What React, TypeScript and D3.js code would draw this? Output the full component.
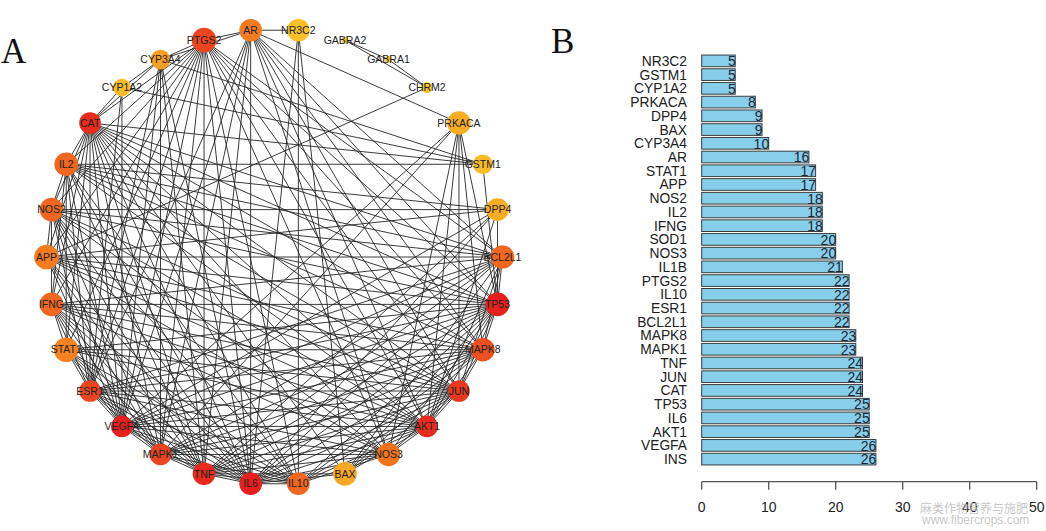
import React from "react";
import * as d3 from "d3";

// ---- panel A: PPI network (circle layout, clockwise from the top) ----
const nodeNames = [
  "NR3C2", "GABRA2", "GABRA1", "CHRM2", "PRKACA", "GSTM1", "DPP4", "BCL2L1",
  "TP53", "MAPK8", "JUN", "AKT1", "NOS3", "BAX", "IL10", "IL6", "TNF", "MAPK1",
  "VEGFA", "ESR1", "STAT1", "IFNG", "APP", "NOS2", "IL2", "CAT", "CYP1A2",
  "CYP3A4", "PTGS2", "AR",
];
// closeness-like score, drives node size
const nodeCloseness = [
  0.85, 0.05, 0.05, 0.25, 0.9, 0.7, 0.85, 0.9, 0.9, 0.9, 0.8, 0.8, 0.9, 0.9,
  0.85, 0.85, 0.85, 0.8, 0.8, 0.8, 0.95, 0.9, 0.95, 0.9, 0.9, 0.8, 0.6, 0.7,
  0.95, 0.85,
];

// adjacency, each edge listed once
const links: [string, string[]][] = [
  ["VEGFA", ["TP53", "AKT1", "IL6", "CAT", "JUN", "TNF", "MAPK8", "MAPK1", "BCL2L1", "IL10", "ESR1", "PTGS2", "NOS3", "IFNG", "IL2", "NOS2", "STAT1", "APP", "AR", "CYP1A2", "CYP3A4", "PRKACA", "DPP4"]],
  ["TP53", ["AKT1", "IL6", "CAT", "JUN", "TNF", "MAPK8", "MAPK1", "BCL2L1", "IL10", "ESR1", "PTGS2", "NOS3", "IFNG", "IL2", "NOS2", "STAT1", "APP", "AR", "PRKACA", "DPP4", "BAX", "GSTM1"]],
  ["AKT1", ["IL6", "CAT", "JUN", "TNF", "MAPK8", "MAPK1", "BCL2L1", "IL10", "ESR1", "PTGS2", "NOS3", "IFNG", "IL2", "NOS2", "STAT1", "APP", "AR", "PRKACA", "DPP4", "BAX"]],
  ["IL6", ["CAT", "JUN", "TNF", "MAPK8", "MAPK1", "BCL2L1", "IL10", "ESR1", "PTGS2", "NOS3", "IFNG", "IL2", "NOS2", "STAT1", "APP", "AR", "NR3C2", "DPP4", "BAX", "CYP3A4"]],
  ["CAT", ["JUN", "TNF", "MAPK8", "MAPK1", "BCL2L1", "IL10", "ESR1", "PTGS2", "NOS3", "IFNG", "IL2", "NOS2", "STAT1", "APP", "GSTM1", "CYP3A4", "CYP1A2", "BAX"]],
  ["JUN", ["TNF", "MAPK8", "MAPK1", "BCL2L1", "IL10", "ESR1", "PTGS2", "NOS3", "IFNG", "IL2", "NOS2", "STAT1", "APP", "AR", "PRKACA", "BAX"]],
  ["TNF", ["MAPK8", "MAPK1", "BCL2L1", "IL10", "ESR1", "PTGS2", "NOS3", "IFNG", "IL2", "NOS2", "STAT1", "APP", "AR", "DPP4", "BAX", "CYP3A4"]],
  ["MAPK8", ["MAPK1", "BCL2L1", "IL10", "ESR1", "PTGS2", "IFNG", "IL2", "STAT1", "APP", "AR", "PRKACA", "BAX"]],
  ["MAPK1", ["BCL2L1", "IL10", "ESR1", "PTGS2", "NOS3", "IFNG", "STAT1", "APP", "AR", "NOS2", "PRKACA", "CYP3A4"]],
  ["BCL2L1", ["ESR1", "PTGS2", "IFNG", "IL2", "APP", "NOS2", "AR", "BAX"]],
  ["IL10", ["ESR1", "PTGS2", "NOS3", "IFNG", "IL2", "NOS2", "STAT1", "NR3C2"]],
  ["ESR1", ["PTGS2", "NOS3", "IFNG", "IL2", "NOS2", "STAT1", "AR", "CYP3A4", "CYP1A2"]],
  ["PTGS2", ["NOS3", "IFNG", "IL2", "NOS2", "STAT1", "APP", "AR", "CYP3A4"]],
  ["NOS3", ["NOS2", "APP", "AR", "IFNG", "PRKACA"]],
  ["IFNG", ["IL2", "STAT1", "NOS2"]],
  ["IL2", ["STAT1", "NOS2", "DPP4", "GSTM1"]],
  ["NOS2", ["APP", "DPP4"]],
  ["APP", ["CHRM2", "DPP4"]],
  ["AR", ["NR3C2", "PRKACA", "CYP3A4"]],
  ["NR3C2", ["BAX"]],
  ["CYP3A4", ["CYP1A2", "GSTM1"]],
  ["CYP1A2", ["GSTM1"]],
  ["GABRA2", ["GABRA1", "CHRM2"]],
  ["GABRA1", ["CHRM2"]],
];

// ---- panel B: degree bar chart ----
const barGenes = [
  "NR3C2", "GSTM1", "CYP1A2", "PRKACA", "DPP4", "BAX", "CYP3A4", "AR", "STAT1",
  "APP", "NOS2", "IL2", "IFNG", "SOD1", "NOS3", "IL1B", "PTGS2", "IL10", "ESR1",
  "BCL2L1", "MAPK8", "MAPK1", "TNF", "JUN", "CAT", "TP53", "IL6", "AKT1",
  "VEGFA", "INS",
];
const barCounts = [
  5, 5, 5, 8, 9, 9, 10, 16, 17, 17, 18, 18, 18, 20, 20, 21, 22, 22, 22, 22, 23,
  23, 24, 24, 24, 25, 25, 25, 26, 26,
];
const xTicks = [0, 10, 20, 30, 40, 50];

const W = 1046;
const H = 531;
const sans = "'Liberation Sans', Arial, Helvetica, sans-serif";
const serif = "'Liberation Serif', 'Times New Roman', serif";

export default function App() {
  // network layout
  const cx = 274.5;
  const cy = 257;
  const R = 228;
  const angle = d3
    .scaleLinear()
    .domain([0, nodeNames.length])
    .range([(-84 * Math.PI) / 180, (276 * Math.PI) / 180]);
  const pos = new Map<string, [number, number]>();
  nodeNames.forEach((n, i) => {
    const a = angle(i);
    pos.set(n, [cx + R * Math.cos(a), cy + R * Math.sin(a)]);
  });

  const edges: [string, string][] = [];
  links.forEach(([s, ts]) => ts.forEach((t) => edges.push([s, t])));
  const degree = new Map<string, number>();
  nodeNames.forEach((n) => degree.set(n, 0));
  edges.forEach(([s, t]) => {
    degree.set(s, (degree.get(s) || 0) + 1);
    degree.set(t, (degree.get(t) || 0) + 1);
  });

  const color = d3
    .scaleLinear<string>()
    .domain([2, 9, 16, 23])
    .range(["#f9c92a", "#f8a824", "#f3731f", "#e5201d"])
    .clamp(true);
  const size = d3.scaleLinear().domain([0, 1]).range([3, 12.8]);

  // bar chart scales
  const x = d3.scaleLinear().domain([0, 50]).range([701.7, 1036.7]);
  const y = d3.scaleBand<string>().domain(barGenes).range([53, 467]).padding(0.15);
  const axisY = 481.7;

  return (
    <svg
      width={W}
      height={H}
      style={{ position: "fixed", left: 0, top: 0, background: "#fff" }}
    >
      <rect width={W} height={H} fill="#fff" />

      {/* panel letters */}
      <text x={1} y={63} fontFamily={serif} fontSize={35} fill="#111">A</text>
      <text x={551} y={53} fontFamily={serif} fontSize={35} fill="#111">B</text>

      {/* network edges */}
      <g stroke="#262626" strokeWidth={1} strokeOpacity={0.9}>
        {edges.map(([s, t], i) => {
          const [x1, y1] = pos.get(s)!;
          const [x2, y2] = pos.get(t)!;
          return <line key={i} x1={x1} y1={y1} x2={x2} y2={y2} />;
        })}
      </g>

      {/* network nodes */}
      <g>
        {nodeNames.map((n, i) => {
          const [px, py] = pos.get(n)!;
          return (
            <circle
              key={n}
              cx={px}
              cy={py}
              r={size(nodeCloseness[i])}
              fill={color(degree.get(n) || 0)}
            />
          );
        })}
      </g>
      <g fontFamily={sans} fontSize={10.5} fill="#222" textAnchor="middle">
        {nodeNames.map((n) => {
          const [px, py] = pos.get(n)!;
          return (
            <text key={n} x={px} y={py} dy="0.35em">
              {n}
            </text>
          );
        })}
      </g>

      {/* bar chart */}
      <g>
        {barGenes.map((g, i) => (
          <rect
            key={g}
            x={x(0)}
            y={y(g)!}
            width={x(barCounts[i]) - x(0)}
            height={y.bandwidth()}
            fill="#87ceeb"
            stroke="#3c3c3c"
            strokeWidth={1}
          />
        ))}
      </g>
      <g fontFamily={sans} fontSize={13.8} fill="#222" textAnchor="end">
        {barGenes.map((g) => (
          <text key={g} x={687} y={y(g)! + y.bandwidth() / 2} dy="0.36em">
            {g}
          </text>
        ))}
      </g>
      <g fontFamily={sans} fontSize={14} fill="#1c2836" textAnchor="end">
        {barGenes.map((g, i) => (
          <text key={g} x={x(barCounts[i]) + 0.5} y={y(g)! + y.bandwidth() / 2} dy="0.38em">
            {barCounts[i]}
          </text>
        ))}
      </g>

      {/* x axis */}
      <g stroke="#555" strokeWidth={1.3} fill="none">
        <line x1={x(0)} x2={x(50)} y1={axisY} y2={axisY} />
        {xTicks.map((t) => (
          <line key={t} x1={x(t)} x2={x(t)} y1={axisY} y2={axisY + 8} />
        ))}
      </g>
      <g fontFamily={sans} fontSize={14} fill="#222" textAnchor="middle">
        {xTicks.map((t) => (
          <text key={t} x={x(t)} y={512}>
            {t}
          </text>
        ))}
      </g>

      {/* watermark */}
      <g fill="#bdbdbd" fillOpacity={0.85}>
        <text x={920} y={513} fontFamily="'Noto Sans CJK SC', sans-serif" fontSize={12}>
          麻类作物营养与施肥
        </text>
        <text x={922} y={524} fontFamily={sans} fontSize={12}>
          www.fibercrops.com
        </text>
      </g>
    </svg>
  );
}
